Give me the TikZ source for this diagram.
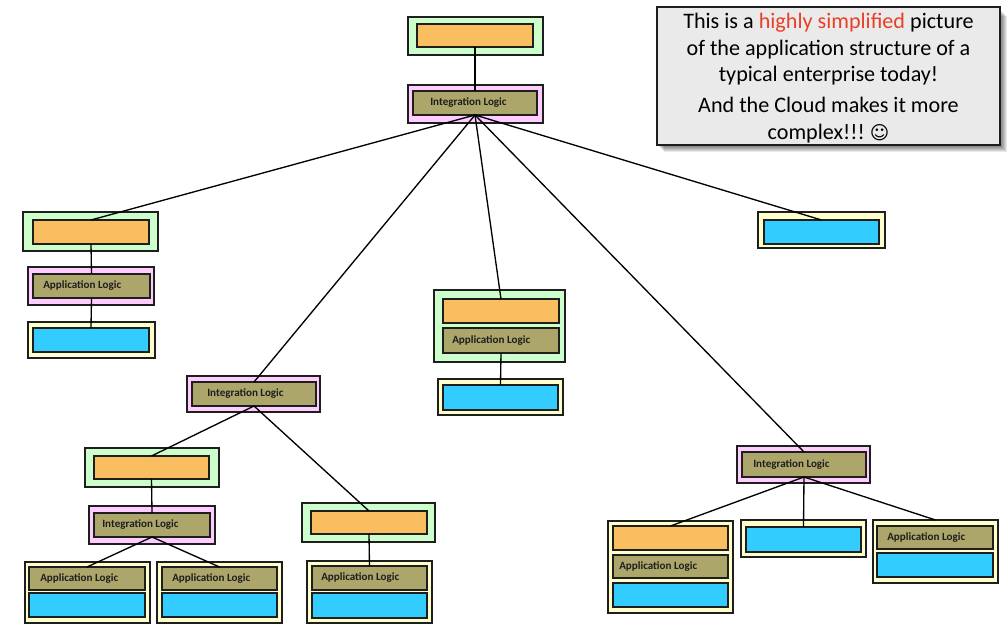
\documentclass[tikz,border=0pt]{standalone}
\usepackage{fontspec}
\setmainfont{Carlito}
\newfontfamily\symfont{DejaVu Sans}
\usetikzlibrary{calc}
\definecolor{grn}{HTML}{CCFFCC}
\definecolor{org}{HTML}{F9BE5F}
\definecolor{pnk}{HTML}{FFCCFF}
\definecolor{olv}{HTML}{ADA66A}
\definecolor{blu}{HTML}{33CCFF}
\definecolor{ylw}{HTML}{FFFFCC}
\definecolor{edge}{HTML}{1E1E1E}
\definecolor{callbg}{HTML}{EAEAEA}
\definecolor{hl}{HTML}{E84026}
\newcommand\bx[6]{\node[#1, minimum width={(#5-#3)*0.75pt}, minimum height={(#6-#4)*0.75pt}] (#2) at ({(#3+#5)/2},{(#4+#6)/2}) {};}
\newcommand\lbl[3]{\node[lbltxt, anchor=west] (#1-t) at ($(#1.west)+(#2,0)$) {#3};}
\tikzset{
  box/.style={draw=edge, line width=1pt, inner sep=0pt, outer sep=0pt},
  gbox/.style={box, fill=grn},
  obox/.style={box, fill=org},
  pbox/.style={box, fill=pnk},
  lbox/.style={box, fill=olv},
  bbox/.style={box, fill=blu},
  ybox/.style={box, fill=ylw},
  lbltxt/.style={font=\fontsize{8.3}{10}\selectfont\bfseries, text=edge, inner sep=0pt},
  link/.style={draw=black, line width=1pt},
}
\begin{document}
\begin{tikzpicture}[x=0.75pt,y=-0.75pt]
\useasboundingbox[fill=white] (0,0) rectangle (1007,630);
% top
\bx{gbox}{tg}{408}{17}{543}{55}
\bx{obox}{to}{417}{24}{533}{47}
\bx{pbox}{tp}{408}{85}{543}{123}
\bx{lbox}{ti}{413}{91}{537}{115}
\lbl{ti}{17}{Integration Logic}
% left column
\bx{gbox}{lg}{23}{212}{158}{251}
\bx{obox}{lo}{33}{220}{149}{244}
\bx{pbox}{lp}{28}{267}{154}{305}
\bx{lbox}{la}{33}{274}{150}{298}
\lbl{la}{10}{Application Logic}
\bx{ybox}{ly}{28}{322}{155}{358}
\bx{bbox}{lb}{33}{328}{149}{352}
% center
\bx{gbox}{cg}{434}{290}{565}{362}
\bx{obox}{co}{443}{299}{559}{323}
\bx{lbox}{ca}{443}{328}{559}{353}
\lbl{ca}{9}{Application Logic}
\bx{ybox}{cy}{438}{379}{563}{415}
\bx{bbox}{cb}{443}{385}{558}{410}
% top right
\bx{ybox}{ry}{758}{212}{885}{248}
\bx{bbox}{rb}{764}{220}{879}{244}
% mid integration
\bx{pbox}{mp}{187}{376}{320}{412}
\bx{lbox}{mi}{192}{382}{316}{406}
\lbl{mi}{15}{Integration Logic}
% lower left
\bx{gbox}{kg}{85}{448}{219}{487}
\bx{obox}{ko}{94}{456}{209}{479}
\bx{pbox}{kp}{89}{506}{215}{544}
\bx{lbox}{ki}{94}{513}{210}{537}
\lbl{ki}{8}{Integration Logic}
\bx{ybox}{a1y}{25}{562}{150}{623}
\bx{lbox}{a1a}{29}{567}{145}{590}
\lbl{a1a}{11}{Application Logic}
\bx{bbox}{a1b}{29}{593}{145}{617}
\bx{ybox}{a2y}{157}{562}{282}{623}
\bx{lbox}{a2a}{162}{567}{277}{590}
\lbl{a2a}{10}{Application Logic}
\bx{bbox}{a2b}{162}{593}{277}{617}
% lower middle
\bx{gbox}{ng}{302}{503}{435}{542}
\bx{obox}{no}{311}{511}{427}{534}
\bx{ybox}{ny}{307}{561}{432}{623}
\bx{lbox}{na}{312}{566}{427}{590}
\lbl{na}{9}{Application Logic}
\bx{bbox}{nb}{312}{593}{427}{618}
% bottom right
\bx{pbox}{sp}{737}{446}{870}{483}
\bx{lbox}{si}{742}{452}{866}{477}
\lbl{si}{11}{Integration Logic}
\bx{ybox}{s1y}{608}{521}{733}{613}
\bx{obox}{s1o}{613}{526}{728}{550}
\bx{lbox}{s1a}{613}{555}{728}{578}
\lbl{s1a}{6}{Application Logic}
\bx{bbox}{s1b}{613}{583}{728}{607}
\bx{ybox}{s2y}{741}{520}{866}{557}
\bx{bbox}{s2b}{746}{527}{861}{552}
\bx{ybox}{s3y}{873}{520}{998}{583}
\bx{lbox}{s3a}{877}{526}{993}{549}
\lbl{s3a}{10}{Application Logic}
\bx{bbox}{s3b}{877}{553}{993}{577}
% connectors
\draw[link] (to.south) -- (ti.north);
\draw[link] (ti.south) -- (lo.north);
\draw[link] (ti.south) -- (mi.north);
\draw[link] (ti.south) -- (co.north);
\draw[link] (ti.south) -- (si.north);
\draw[link] (ti.south) -- (rb.north);
\draw[link] (lo.south) -- (la.north);
\draw[link] (la.south) -- (lb.north);
\draw[link] (ca.south) -- (cb.north);
\draw[link] (mi.south) -- (ko.north);
\draw[link] (mi.south) -- (no.north);
\draw[link] (ko.south) -- (ki.north);
\draw[link] (ki.south) -- (a1a.north);
\draw[link] (ki.south) -- (a2a.north);
\draw[link] (no.south) -- (na.north);
\draw[link] (si.south) -- (s1o.north);
\draw[link] (si.south) -- (s2b.north);
\draw[link] (si.south) -- (s3y.north);
% callout shadow
\foreach \s in {1,...,7}{
  \fill[black, opacity=0.09] (657+\s,9+\s) rectangle (1000+\s,145+\s);
}
\node[draw=edge, fill=callbg, line width=1pt, inner sep=0pt, minimum width={343*0.75pt}, minimum height={138*0.75pt}] (call) at (828.5,76) {};
\node[align=center, inner sep=0pt, font=\fontsize{16.6}{20}\selectfont, text=black] (callt) at ($(call.center)+(0,2)$) {This is a \textcolor{hl}{highly simplified} picture\\ of the application structure of a\\ typical enterprise today!\\[3pt] And the Cloud makes it more\\ complex!!!\ {\symfont\fontsize{14}{20}\selectfont ☺}};
\end{tikzpicture}
\end{document}
